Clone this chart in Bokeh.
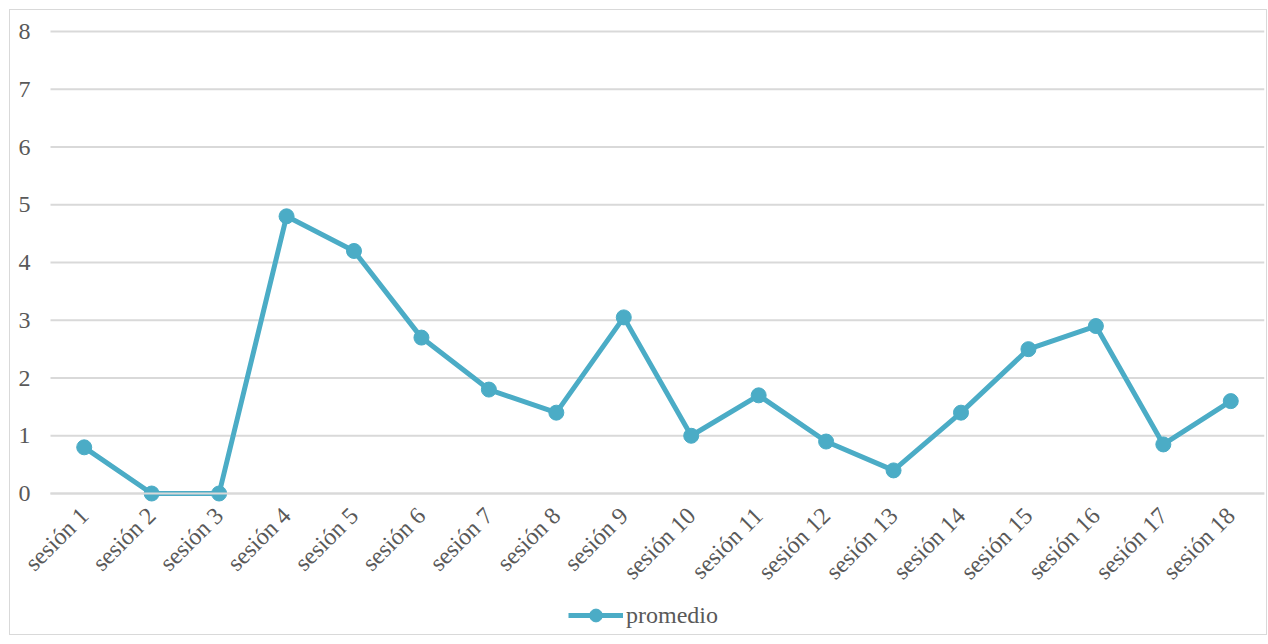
import math
from bokeh.plotting import figure
from bokeh.models import (Range1d, Legend, LegendItem, FixedTicker, LinearAxis, ColumnDataSource)
from bokeh.embed import file_html
from bokeh.resources import INLINE

categories = ["sesión 1", "sesión 2", "sesión 3", "sesión 4", "sesión 5", "sesión 6",
              "sesión 7", "sesión 8", "sesión 9", "sesión 10", "sesión 11", "sesión 12",
              "sesión 13", "sesión 14", "sesión 15", "sesión 16", "sesión 17", "sesión 18"]
promedio = [0.8, 0.0, 0.0, 4.8, 4.2, 2.7, 1.8, 1.4, 3.05, 1.0, 1.7, 0.9, 0.4, 1.4, 2.5, 2.9, 0.85, 1.6]
y_ticks = [0, 1, 2, 3, 4, 5, 6, 7, 8]
series_name = "promedio"

FONT = "Liberation Serif"
TEXT = "#595959"
GRID = "#D9D9D9"
COLOR = "#4BACC6"

idx = list(range(len(categories)))
src = ColumnDataSource(dict(x=idx, y=promedio))
x_lo, x_hi = -0.5, len(categories) - 0.5

# the frame covers the whole chart area so that axes, labels and legend are drawn inside it
p = figure(x_range=Range1d(x_lo - 0.593, x_hi), y_range=Range1d(-2.424, max(y_ticks) + 0.364),
           frame_width=1254, frame_height=623, output_backend="svg", toolbar_location=None,
           x_axis_location=None, y_axis_location=None,
           min_border_left=0, min_border_right=2, min_border_top=0, min_border_bottom=1)
p.styles = {"border": "1px solid #D9D9D9", "margin-left": "9px", "margin-top": "9px"}
p.outline_line_color = None
p.background_fill_color = "white"
p.border_fill_color = "white"
p.xgrid.visible = False
p.ygrid.visible = False

grid_src = ColumnDataSource(dict(x0=[x_lo] * len(y_ticks), x1=[x_hi] * len(y_ticks),
                                 y=y_ticks))
p.segment(x0="x0", x1="x1", y0="y", y1="y", source=grid_src, line_color=GRID, line_width=2)

line_r = p.line("x", "y", source=src, line_color=COLOR, line_width=5)
scat_r = p.scatter("x", "y", source=src, size=15, fill_color=COLOR, line_color=COLOR)

xaxis = LinearAxis(fixed_location=0, ticker=FixedTicker(ticks=idx),
                   major_label_overrides={i: c for i, c in zip(idx, categories)},
                   bounds=(x_lo, x_hi))
yaxis = LinearAxis(fixed_location=x_lo, ticker=FixedTicker(ticks=y_ticks),
                   bounds=(min(y_ticks), max(y_ticks)))
p.add_layout(xaxis, "below")
p.add_layout(yaxis, "left")

yaxis.axis_line_color = None
yaxis.major_tick_line_color = None
yaxis.minor_tick_line_color = None
yaxis.major_label_standoff = 14
xaxis.axis_line_color = GRID
xaxis.axis_line_width = 2
xaxis.major_tick_line_color = None
xaxis.minor_tick_line_color = None
xaxis.major_label_orientation = math.pi / 4
xaxis.major_label_standoff = 12
for ax in (xaxis, yaxis):
    ax.major_label_text_font = FONT
    ax.major_label_text_font_size = "24px"
    ax.major_label_text_color = TEXT

legend = Legend(items=[LegendItem(label=series_name, renderers=[line_r, scat_r])],
                location=(558, 2), orientation="horizontal")
legend.label_text_font = FONT
legend.label_text_font_size = "24px"
legend.label_text_color = TEXT
legend.glyph_width = 55
legend.glyph_height = 32
legend.label_standoff = 3
legend.border_line_color = None
legend.background_fill_alpha = 0
legend.margin = 0
legend.padding = 2
p.add_layout(legend, "center")

open("out.html", "w").write(file_html(p, INLINE))
